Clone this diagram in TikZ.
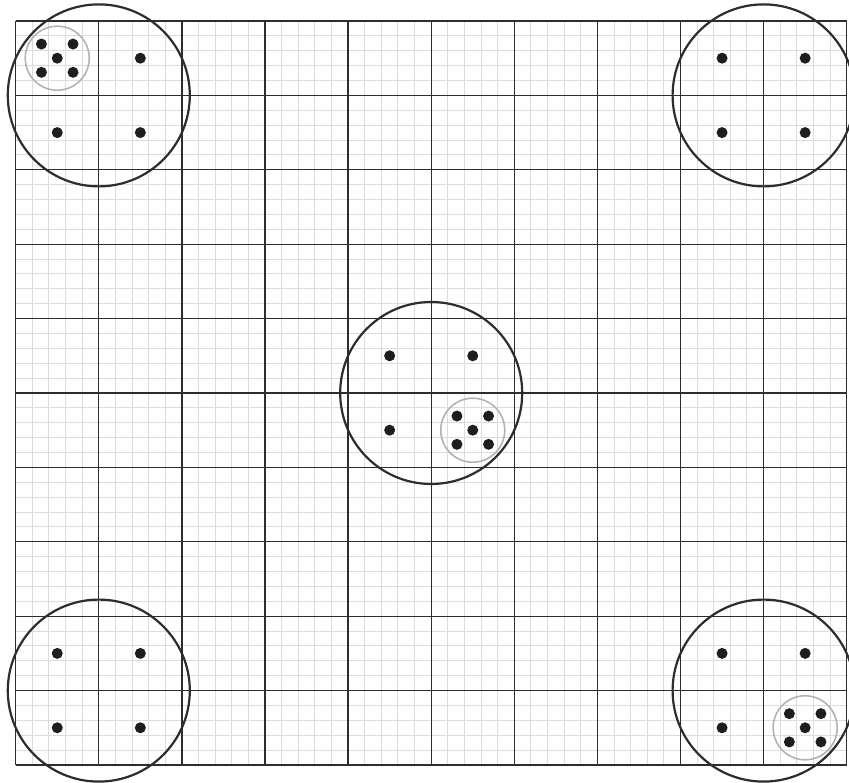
\documentclass[tikz,border=0pt]{standalone}
\usepackage{xcolor}
\usepackage{tikz}
\definecolor{GridInk}{RGB}{45,45,45}
\definecolor{GridFine}{RGB}{220,220,220}
\definecolor{HubGray}{RGB}{178,178,178}
\definecolor{DotInk}{RGB}{30,30,30}

\begin{document}
\begin{tikzpicture}[x=83.1pt, y=74.4pt,
          finegrid/.style={draw=GridFine, line width=1pt, xstep=16.62pt, ystep=14.88pt},
          cellgrid/.style={draw=GridInk, line width=1.3pt, xstep=83.1pt, ystep=74.4pt},
          zone/.style={circle, draw=GridInk, line width=2.2pt, minimum size=182pt, inner sep=0pt},
          hub/.style={circle, draw=HubGray, line width=1.6pt, minimum size=64pt, inner sep=0pt},
          dot/.style={circle, fill=DotInk, minimum size=11pt, inner sep=0pt}
        ]
        \useasboundingbox (-15.7pt,-18pt) rectangle (833.3pt,765pt);

        % Grid
        \draw[finegrid] (0,0) grid (10,10);
        \draw[cellgrid] (0,0) grid (10,10);

        % Zones
        \node[zone] (zNW) at (1,9) {};
        \node[zone] (zNE) at (9,9) {};
        \node[zone] (zC)  at (5,5) {};
        \node[zone] (zSW) at (1,1) {};
        \node[zone] (zSE) at (9,1) {};

        % Single dots
        \foreach \z/\dx/\dy [count=\i] in {zNW/.5/.5, zNW/-.5/-.5, zNW/.5/-.5,
                                         zNE/-.5/.5, zNE/.5/.5, zNE/-.5/-.5, zNE/.5/-.5,
                                         zC/-.5/.5, zC/.5/.5, zC/-.5/-.5,
                                         zSW/-.5/.5, zSW/.5/.5, zSW/-.5/-.5, zSW/.5/-.5,
                                         zSE/-.5/.5, zSE/.5/.5, zSE/-.5/-.5} {
          \node[dot] (d\i) at ([shift={(\dx,\dy)}]\z) {};
        }

        % Hubs
        \node[hub] (hNW) at ([shift={(-.5,.5)}]zNW) {};
        \node[hub] (hC)  at ([shift={(.5,-.5)}]zC) {};
        \node[hub] (hSE) at ([shift={(.5,-.5)}]zSE) {};

        \foreach \h in {hNW, hC, hSE} {
          \foreach \dx/\dy [count=\j] in {0/0, -.19/.19, .19/.19, -.19/-.19, .19/-.19} {
            \node[dot] (\h-\j) at ([shift={(\dx,\dy)}]\h) {};
          }
        }
      \end{tikzpicture}
\end{document}
